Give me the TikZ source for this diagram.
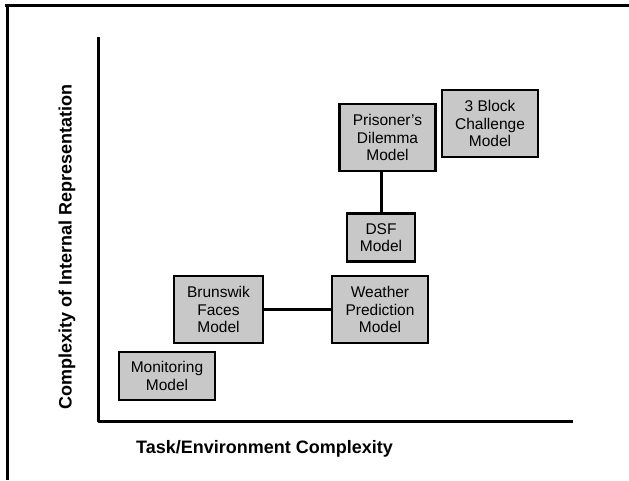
\documentclass[tikz,border=0pt]{standalone}
\usepackage{fontspec}
\setmainfont{Liberation Sans}
\begin{document}
\begin{tikzpicture}[x=1pt,y=-1pt,
  model/.style={draw=black, line width=2.4pt, fill=boxgray, align=center, inner sep=0pt,
    font=\fontsize{15.5}{17.5}\selectfont},
  axis/.style={line width=3pt, line join=round},
  link/.style={line width=3pt},
  axlabel/.style={font=\fontsize{18}{20}\bfseries\selectfont, inner sep=0pt}]
\definecolor{boxgray}{RGB}{200,200,200}
\useasboundingbox (0,0) rectangle (629,480);
% frame (cropped)
\draw[line width=3.5pt] (5,5.7) -- (629,5.7);
\draw[line width=3.5pt] (7.7,4) -- (7.7,480);
% axes
\coordinate (ytop) at (98,37);
\coordinate (orig) at (98,421);
\coordinate (xend) at (573,421);
\draw[axis] (ytop) -- (orig) -- (xend);
\node[axlabel] (xl) at (264.5,449) {Task/Environment Complexity};
\node[axlabel, rotate=90] (yl) at (67,247) {Complexity of Internal Representation};
% models
\node[model, minimum width=96, minimum height=48] (mon) at (167,376) {Monitoring\\Model};
\node[model, minimum width=89, minimum height=67] (bru) at (218.5,309.5) {Brunswik\\Faces\\Model};
\node[model, minimum width=96, minimum height=67] (wea) at (380,309.5) {Weather\\Prediction\\Model};
\node[model, minimum width=68, minimum height=48] (dsf) at (381,237.5) {DSF\\Model};
\node[model, minimum width=96, minimum height=67] (pri) at (387.5,137.5) {Prisoner's\\Dilemma\\Model};
\node[model, minimum width=96, minimum height=67] (blk) at (490,123.5) {3 Block\\Challenge\\Model};
% links
\draw[link] (bru.east) -- (wea.west);
\draw[link] (pri.south -| dsf.north) -- (dsf.north);
\end{tikzpicture}
\end{document}
